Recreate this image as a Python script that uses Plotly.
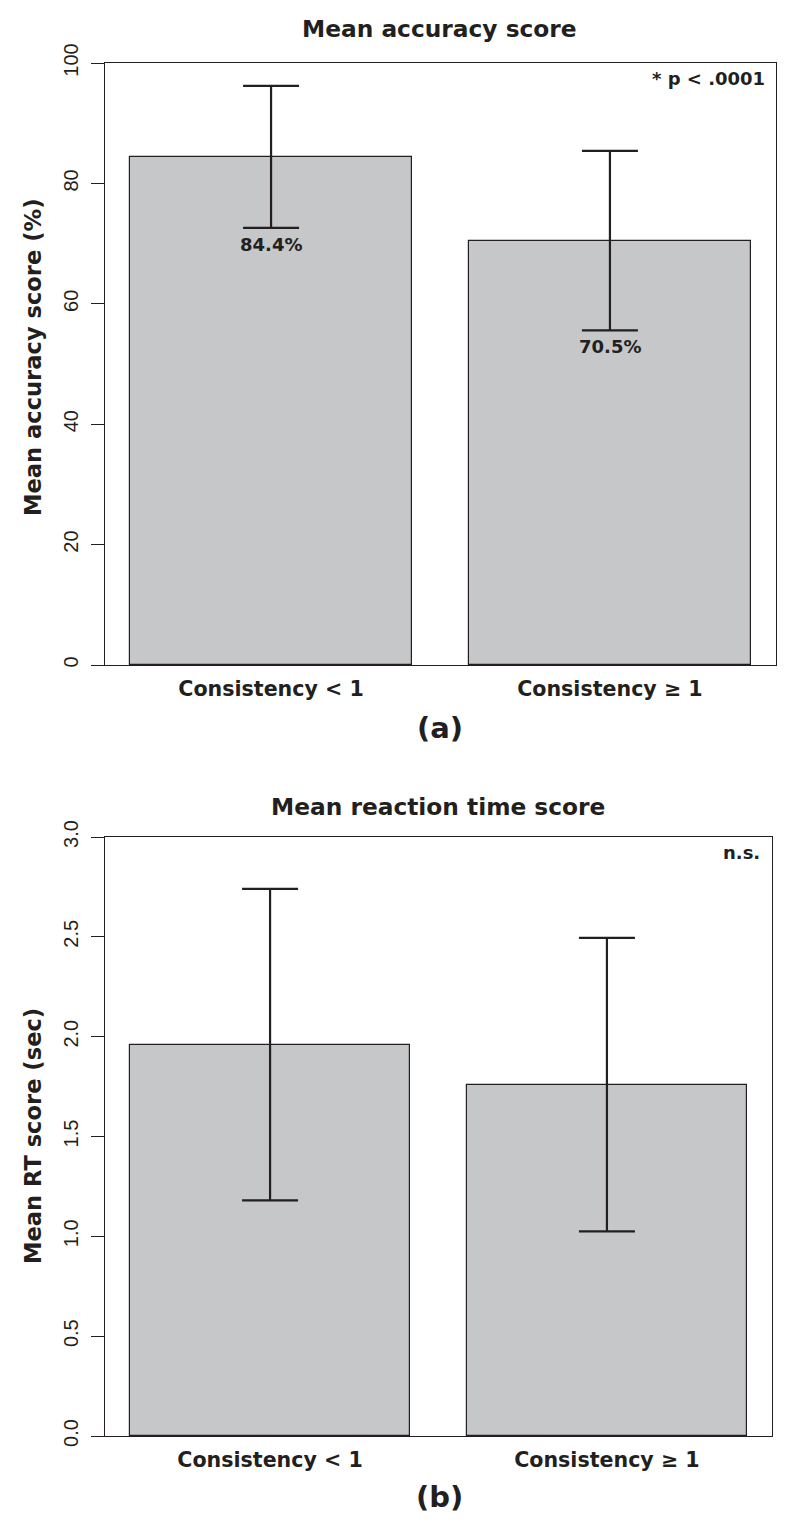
import plotly.graph_objects as go

OFF = 8               # page body margin added by the browser
W, H = 800 - 2 * OFF, 1537 - 2 * OFF

categories = ["Consistency < 1", "Consistency \u2265 1"]
bar_pos = [0.7, 1.9]

acc_mean = [84.4, 70.5]
acc_err = [11.8, 14.9]
acc_labels = ["84.4%", "70.5%"]

rt_mean = [1.96, 1.76]
rt_err = [0.78, 0.735]

acc_ticks = [0, 20, 40, 60, 80, 100]
rt_ticks = [0.0, 0.5, 1.0, 1.5, 2.0, 2.5, 3.0]
rt_ticktext = ["0.0", "0.5", "1.0", "1.5", "2.0", "2.5", "3.0"]

BAR_COLOR = "#c6c7c9"
INK = "#231f20"
BOLD = "DejaVu Sans"
TICKF = "Liberation Sans, Arial, sans-serif"


def px_x(p):
    return (p - OFF) / W


def px_y(p):
    return 1 - (p - OFF) / H


fig = go.Figure()

fig.add_trace(go.Bar(
    x=bar_pos, y=acc_mean, width=1.0,
    marker=dict(color=BAR_COLOR, line=dict(color=INK, width=1.2)),
    error_y=dict(type="data", array=acc_err, visible=True, color=INK, thickness=2.2, width=28),
    xaxis="x", yaxis="y", showlegend=False, hoverinfo="skip",
))
fig.add_trace(go.Bar(
    x=bar_pos, y=rt_mean, width=1.0,
    marker=dict(color=BAR_COLOR, line=dict(color=INK, width=1.2)),
    error_y=dict(type="data", array=rt_err, visible=True, color=INK, thickness=2.2, width=28),
    xaxis="x2", yaxis="y2", showlegend=False, hoverinfo="skip",
))

xcommon = dict(
    range=[0.112, 2.488], tickvals=bar_pos, ticktext=categories,
    ticks="", showline=True, mirror=True, linecolor=INK, linewidth=1.2,
    showgrid=False, zeroline=False, fixedrange=True, automargin=False,
    tickfont=dict(family=BOLD, size=20.6, color=INK, weight="bold"),
    ticklabelstandoff=5,
)
ycommon = dict(
    ticks="outside", ticklen=13, tickcolor=INK, tickwidth=1.2,
    showline=True, mirror=True, linecolor=INK, linewidth=1.2,
    showgrid=False, zeroline=False, tickangle=-90, automargin=False,
    tickfont=dict(family=TICKF, size=20, color=INK),
    ticklabelstandoff=5,
)

fig.update_layout(
    width=W, height=H,
    margin=dict(l=0, r=0, t=0, b=0, pad=0, autoexpand=False),
    paper_bgcolor="white", plot_bgcolor="white",
    bargap=0,
    xaxis=dict(domain=[px_x(105), px_x(776)], anchor="y", **xcommon),
    yaxis=dict(domain=[px_y(665), px_y(63)], anchor="x", range=[0, 100],
               tickvals=acc_ticks, **ycommon),
    xaxis2=dict(domain=[px_x(105), px_x(772)], anchor="y2", **xcommon),
    yaxis2=dict(domain=[px_y(1436), px_y(837)], anchor="x2", range=[0, 3],
                tickvals=rt_ticks, ticktext=rt_ticktext, **ycommon),
)

ann = []


def txt(text, x, y, size, xanchor="center", yanchor="middle", textangle=0):
    ann.append(dict(text=text, x=px_x(x), y=px_y(y), xref="paper", yref="paper",
                    showarrow=False, xanchor=xanchor, yanchor=yanchor,
                    textangle=textangle,
                    font=dict(family=BOLD, size=size, color=INK, weight="bold")))


txt("Mean accuracy score", 440, 29, 23.3)
txt("Mean reaction time score", 438, 806, 23.3)
txt("(a)", 440, 728, 29)
txt("(b)", 440, 1497, 29)
txt("* p < .0001", 767, 79, 18, xanchor="right")
txt("n.s.", 762, 852, 18, xanchor="right")
txt("Mean accuracy score (%)", 33, 358, 22.6, textangle=-90)
txt("Mean RT score (sec)", 33, 1136, 22.6, textangle=-90)

for xp, m, e, lab in zip(bar_pos, acc_mean, acc_err, acc_labels):
    ann.append(dict(text=lab, x=xp, y=m - e, xref="x", yref="y", showarrow=False,
                    xanchor="center", yanchor="top", yshift=-4,
                    font=dict(family=BOLD, size=18, color=INK, weight="bold")))

fig.update_layout(annotations=ann)

fig.write_html("out.html")
